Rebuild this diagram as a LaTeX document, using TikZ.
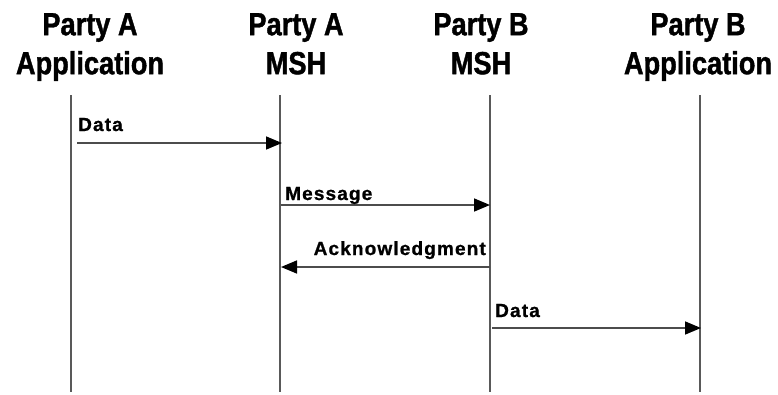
\documentclass[tikz,border=0pt]{standalone}
\usepackage{fontspec}
\usetikzlibrary{arrows.meta}
\newfontfamily\hdrfont{Liberation Sans}[FakeStretch=0.85, FakeBold=1.2]
\newfontfamily\lblfont{Liberation Sans}[LetterSpace=6, FakeBold=1]
\begin{document}
\begin{tikzpicture}[x=1pt, y=-1pt,
    hdr/.style={font=\hdrfont\bfseries\fontsize{32}{39}\selectfont, align=center, inner sep=0pt, anchor=north},
    lbl/.style={font=\lblfont\bfseries\fontsize{19}{21}\selectfont, inner sep=0pt},
    life/.style={draw=black!65, line width=1.6pt},
    msg/.style={draw=black!70, line width=1.6pt, -{Triangle[length=16pt, width=13pt, color=black]}}]
        \useasboundingbox (0,0) rectangle (778,394);
        
        % Headers
        \node[hdr] (HA1) at (90,13) {Party A\\Application};
        \node[hdr] (HA2) at (296,13) {Party A\\MSH};
        \node[hdr] (HB2) at (481,13) {Party B\\MSH};
        \node[hdr] (HB1) at (698,13) {Party B\\Application};
        
        % Lifelines
        \foreach \n/\x in {L1/71, L2/280, L3/490, L4/700} {
            \coordinate (\n top) at (\x,95);
            \coordinate (\n bot) at (\x,392);
            \draw[life] (\n top) -- (\n bot);
        }
        
        % Message end points
        \coordinate (D1s) at (77,143);
        \coordinate (D1e) at (282,143);
        \coordinate (Ms) at (281,205);
        \coordinate (Me) at (490,205);
        \coordinate (As) at (490,267);
        \coordinate (Ae) at (281,267);
        \coordinate (D2s) at (492,328);
        \coordinate (D2e) at (701,328);
        
        % Messages
        \draw[msg] (D1s) -- (D1e);
        \draw[msg] (Ms) -- (Me);
        \draw[msg] (As) -- (Ae);
        \draw[msg] (D2s) -- (D2e);
        
        % Labels
        \node[lbl, anchor=base west] (T1) at (78,131) {Data};
        \node[lbl, anchor=base west] (T2) at (285,200) {Message};
        \node[lbl, anchor=base east] (T3) at (486,255) {Acknowledgment};
        \node[lbl, anchor=base west] (T4) at (495,317) {Data};
    \end{tikzpicture}
\end{document}
